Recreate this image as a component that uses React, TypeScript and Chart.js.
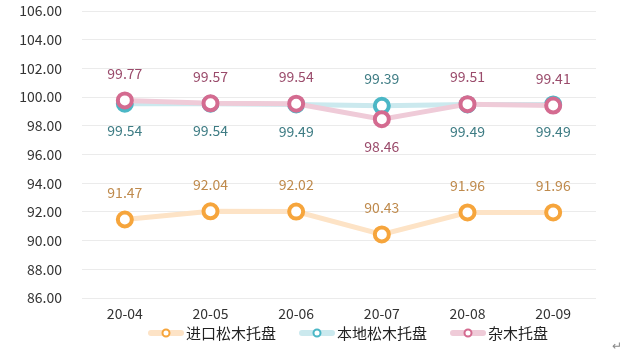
import React, { useEffect, useRef } from "react";
import { Chart, registerables } from "chart.js";
Chart.register(...registerables);

const categories = ["20-04", "20-05", "20-06", "20-07", "20-08", "20-09"];
const importedPine = [91.47, 92.04, 92.02, 90.43, 91.96, 91.96];
const localPine = [99.54, 99.54, 99.49, 99.39, 99.49, 99.49];
const mixedWood = [99.77, 99.57, 99.54, 98.46, 99.51, 99.41];
const seriesNames = ["进口松木托盘", "本地松木托盘", "杂木托盘"];
const importedLabelSide = ["up", "up", "up", "up", "up", "up"];
const localLabelSide = ["down", "down", "down", "up", "down", "down"];
const mixedLabelSide = ["up", "up", "up", "down", "up", "up"];
const yMin = 86;
const yMax = 106;
const yStep = 2;

const FONT = '"Noto Sans CJK SC", "Noto Sans", sans-serif';

const styles = [
  { line: "#fde3c6", point: "#f6a53c", label: "#bf8a4c" },
  { line: "#cbe9ee", point: "#4bb7c6", label: "#3e7c84" },
  { line: "#efcbd8", point: "#d46b90", label: "#9a4b6b" },
];

const sides = [importedLabelSide, localLabelSide, mixedLabelSide];

const labelPlugin = {
  id: "valueLabels",
  afterDatasetsDraw(chart: any) {
    const ctx = chart.ctx;
    ctx.save();
    ctx.font = `14px ${FONT}`;
    ctx.textAlign = "center";
    ctx.textBaseline = "middle";
    chart.data.datasets.forEach((ds: any, di: number) => {
      const meta = chart.getDatasetMeta(di);
      const side = sides[ds.seriesIndex];
      ctx.fillStyle = styles[ds.seriesIndex].label;
      meta.data.forEach((pt: any, i: number) => {
        const v = ds.data[i];
        const dy = side[i] === "up" ? -27 : 27;
        ctx.fillText(v.toFixed(2), pt.x, pt.y + dy);
      });
    });
    ctx.restore();
  },
};

const legendPlugin = {
  id: "customLegend",
  afterDraw(chart: any) {
    const ctx = chart.ctx;
    ctx.save();
    ctx.font = `15px ${FONT}`;
    ctx.textBaseline = "middle";
    let x = 148;
    const y = 333;
    seriesNames.forEach((name, i) => {
      const st = styles[i];
      ctx.strokeStyle = st.line;
      ctx.lineWidth = 6;
      ctx.lineCap = "round";
      ctx.beginPath();
      ctx.moveTo(x + 3, y);
      ctx.lineTo(x + 33, y);
      ctx.stroke();
      ctx.beginPath();
      ctx.arc(x + 18, y, 3.5, 0, Math.PI * 2);
      ctx.fillStyle = "#ffffff";
      ctx.fill();
      ctx.lineWidth = 2;
      ctx.strokeStyle = st.point;
      ctx.stroke();
      ctx.fillStyle = "#222";
      ctx.textAlign = "left";
      ctx.fillText(name, x + 38, y);
      const w = ctx.measureText(name).width;
      x += 38 + w + 23;
    });
    ctx.fillStyle = "#888";
    ctx.font = `12px ${FONT}`;
    ctx.fillText("↵", 612, 345);
    ctx.restore();
  },
};

export default function App() {
  const ref = useRef<HTMLCanvasElement>(null);
  useEffect(() => {
    if (!ref.current) return;
    const mk = (data: number[], si: number, order: number) => ({
      label: seriesNames[si],
      data,
      seriesIndex: si,
      order,
      borderColor: styles[si].line,
      borderWidth: 5,
      backgroundColor: "#ffffff",
      pointBackgroundColor: "#ffffff",
      pointBorderColor: styles[si].point,
      pointBorderWidth: 4,
      pointRadius: 7,
      pointHoverRadius: 7,
      tension: 0,
      fill: false,
    });
    const chart = new Chart(ref.current, {
      type: "line",
      data: {
        labels: categories,
        datasets: [mk(importedPine, 0, 2), mk(localPine, 1, 1), mk(mixedWood, 2, 0)] as any,
      },
      options: {
        animation: false,
        responsive: false,
        maintainAspectRatio: false,
        layout: { padding: { left: 0, right: 36, top: 11, bottom: 0 } },
        plugins: { legend: { display: false }, tooltip: { enabled: false } },
        scales: {
          x: {
            offset: true,
            grid: { display: false, drawTicks: false },
            border: { display: false },
            ticks: { color: "#333", font: { family: FONT, size: 14 }, padding: 7 },
            afterFit: (s: any) => { s.height = 56; s.paddingLeft = 0; s.paddingRight = 0; },
          },
          y: {
            min: yMin,
            max: yMax,
            grid: { color: "#ebebeb", lineWidth: 1, drawTicks: false },
            border: { display: false },
            ticks: {
              stepSize: yStep,
              color: "#333",
              padding: 20,
              font: { family: FONT, size: 14 },
              callback: (v: any) => Number(v).toFixed(2),
            },
            afterFit: (s: any) => { s.width = 82; s.paddingTop = 0; s.paddingBottom = 0; },
          },
        },
      },
      plugins: [labelPlugin, legendPlugin],
    });
    return () => chart.destroy();
  }, []);
  return (
    <div style={{ position: "fixed", left: 0, top: 0, width: 632, height: 354, background: "#fff" }}>
      <canvas ref={ref} width={632} height={354} style={{ width: 632, height: 354 }} />
    </div>
  );
}
